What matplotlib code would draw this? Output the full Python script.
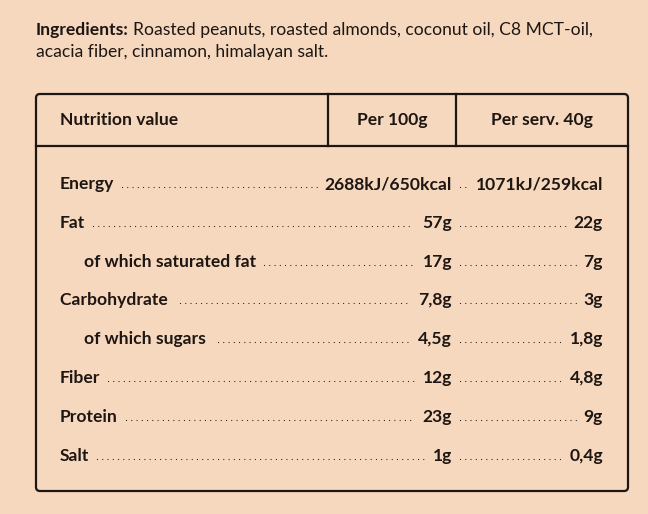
import matplotlib.pyplot as plt
from matplotlib.patches import FancyBboxPatch

plt.rcParams['font.family'] = ['Lato', 'DejaVu Sans']

bg = '#f6d8be'
ink = '#1e1612'

ingredients = "Roasted peanuts, roasted almonds, coconut oil, C8 MCT-oil,"
ingredients2 = "acacia fiber, cinnamon, himalayan salt."
headers = ["Nutrition value", "Per 100g", "Per serv. 40g"]
names = ["Energy", "Fat", "of which saturated fat", "Carbohydrate ", "of which sugars ",
         "Fiber", "Protein", "Salt"]
sub = [False, False, True, False, True, False, False, False]
per100 = ["2688kJ/650kcal", "57g", "17g", "7,8g", "4,5g", "12g", "23g", "1g"]
perserv = ["1071kJ/259kcal", "22g", "7g", "3g", "1,8g", "4,8g", "9g", "0,4g"]

fig = plt.figure(figsize=(6.48, 5.14), dpi=100, facecolor=bg)
ax = fig.add_axes([0, 0, 1, 1])
ax.set_xlim(0, 648)
ax.set_ylim(514, 0)
ax.axis('off')
ax.set_facecolor(bg)

fs = 12.6
t = ax.text(36, 30, "Ingredients:", fontsize=fs, weight='bold', color=ink, va='center')
fig.canvas.draw()
r = fig.canvas.get_renderer()
inv = ax.transData.inverted()
def xr(txt):
    bb = txt.get_window_extent(r)
    return inv.transform((bb.x1, 0))[0], inv.transform((bb.x0, 0))[0]

x_end = xr(t)[0]
ax.text(x_end + 4, 30, ingredients, fontsize=fs, color=ink, va='center')
ax.text(36, 52, ingredients2, fontsize=fs, color=ink, va='center')

# table frame
box = FancyBboxPatch((36, 94), 592, 397, boxstyle="round,pad=0,rounding_size=4",
                     fc='none', ec=ink, lw=1.6)
ax.add_patch(box)
ax.plot([36, 628], [146, 146], color=ink, lw=1.6)
ax.plot([328, 328], [94, 146], color=ink, lw=1.6)
ax.plot([456, 456], [94, 146], color=ink, lw=1.6)

ax.text(60, 120, headers[0], fontsize=fs, weight='bold', color=ink, va='center')
ax.text(392, 120, headers[1], fontsize=fs, weight='bold', color=ink, va='center', ha='center')
ax.text(542, 120, headers[2], fontsize=fs, weight='bold', color=ink, va='center', ha='center')

ys = [184, 223, 262, 300, 339, 378, 417, 456]
for i in range(len(names)):
    y = ys[i]
    lx = 84 if sub[i] else 60
    a = ax.text(lx, y, names[i], fontsize=fs, weight='bold', color=ink, va='center')
    b = ax.text(452, y, per100[i], fontsize=fs, weight='bold', color=ink, va='center', ha='right')
    c = ax.text(603, y, perserv[i], fontsize=fs, weight='bold', color=ink, va='center', ha='right')
    fig.canvas.draw()
    a1 = xr(a)[0]
    b0 = xr(b)[1]
    c0 = xr(c)[1]
    ax.plot([a1 + 8, b0 - 8], [y + 3, y + 3], color=ink, lw=0.9, dashes=[0.01, 4.2],
            dash_capstyle='round')
    ax.plot([460, c0 - 8], [y + 3, y + 3], color=ink, lw=0.9, dashes=[0.01, 4.2],
            dash_capstyle='round')

fig.savefig('out.png', dpi=100, facecolor=bg)
